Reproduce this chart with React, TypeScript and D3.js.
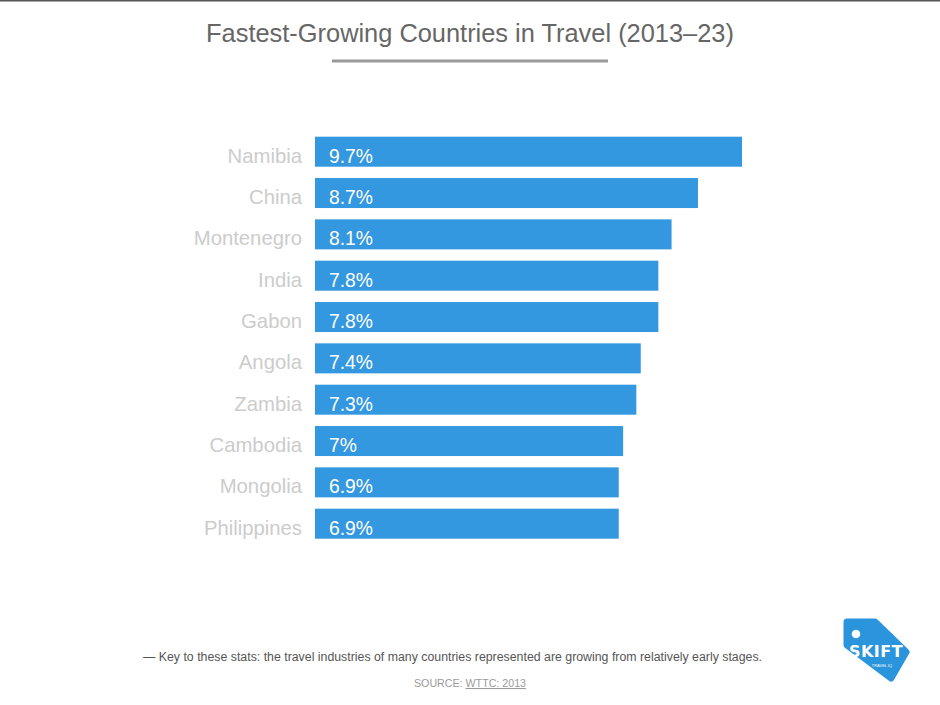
import React from "react";
import * as d3 from "d3";

const countries = ["Namibia", "China", "Montenegro", "India", "Gabon", "Angola", "Zambia", "Cambodia", "Mongolia", "Philippines"];
const growth = [9.7, 8.7, 8.1, 7.8, 7.8, 7.4, 7.3, 7.0, 6.9, 6.9];
const titleText = "Fastest-Growing Countries in Travel (2013–23)";
const noteText = "— Key to these stats: the travel industries of many countries represented are growing from relatively early stages.";
const sourceLabel = "SOURCE: ";
const sourceLink = "WTTC: 2013";

const W = 940;
const H = 705;
const FONT = "'Liberation Sans', Arial, Helvetica, sans-serif";

export default function App() {
  const x = d3.scaleLinear().domain([0, 9.7]).range([315, 742]);
  const y = d3.scaleBand<string>().domain(countries).range([136.7, 538.7]).paddingInner(0.274).paddingOuter(0);
  const bh = y.bandwidth();
  const logoPts: [number, number][] = [
    [847, 622], [875, 622], [906, 652], [891, 678], [847, 645],
  ];
  const logoPath = d3.line().curve(d3.curveLinearClosed)(logoPts) || "";
  return (
    <svg width={W} height={H} style={{ position: "absolute", left: 0, top: 0, background: "#fff" }}>
      <rect x={0} y={0} width={W} height={H} fill="#fff" />
      <line x1={0} x2={W} y1={0.75} y2={0.75} stroke="#555" strokeWidth={1.5} />
      <text x={470} y={42} textAnchor="middle" fontFamily={FONT} fontSize={25.4} fill="#666">{titleText}</text>
      <line x1={332} x2={608} y1={61} y2={61} stroke="#9a9a9a" strokeWidth={3} />
      {countries.map((c, i) => {
        const yy = y(c) as number;
        return (
          <g key={c}>
            <rect x={x(0)} y={yy} width={x(growth[i]) - x(0)} height={bh} fill="#3498e0" />
            <text x={302} y={yy + bh / 2 + 11} textAnchor="end" fontFamily={FONT} fontSize={20.3} fill="#cccccc">{c}</text>
            <text x={x(0) + 14} y={yy + bh / 2 + 11} fontFamily={FONT} fontSize={19.3} fill="#ffffff">{`${growth[i]}%`}</text>
          </g>
        );
      })}
      <text x={143} y={661} fontFamily={FONT} fontSize={12} fill="#555" textLength={619} lengthAdjust="spacingAndGlyphs">{noteText}</text>
      <text x={414} y={687} fontFamily={FONT} fontSize={10.5} fill="#9a9a9a" textLength={112} lengthAdjust="spacingAndGlyphs">
        <tspan>{sourceLabel}</tspan>
        <tspan textDecoration="underline">{sourceLink}</tspan>
      </text>
      <g>
        <path d={logoPath} fill="#2a94dc" stroke="#2a94dc" strokeWidth={7} strokeLinejoin="round" />
        <circle cx={856} cy={634} r={4.3} fill="#fff" />
        <text x={876} y={657} textAnchor="middle" fontFamily="'DejaVu Sans', sans-serif" fontWeight="bold" fontSize={16} fill="#fff" letterSpacing={0.5}>SKIFT</text>
        <text x={882} y={667} textAnchor="middle" fontFamily={FONT} fontSize={4} fill="#fff">TRAVEL IQ</text>
      </g>
    </svg>
  );
}
